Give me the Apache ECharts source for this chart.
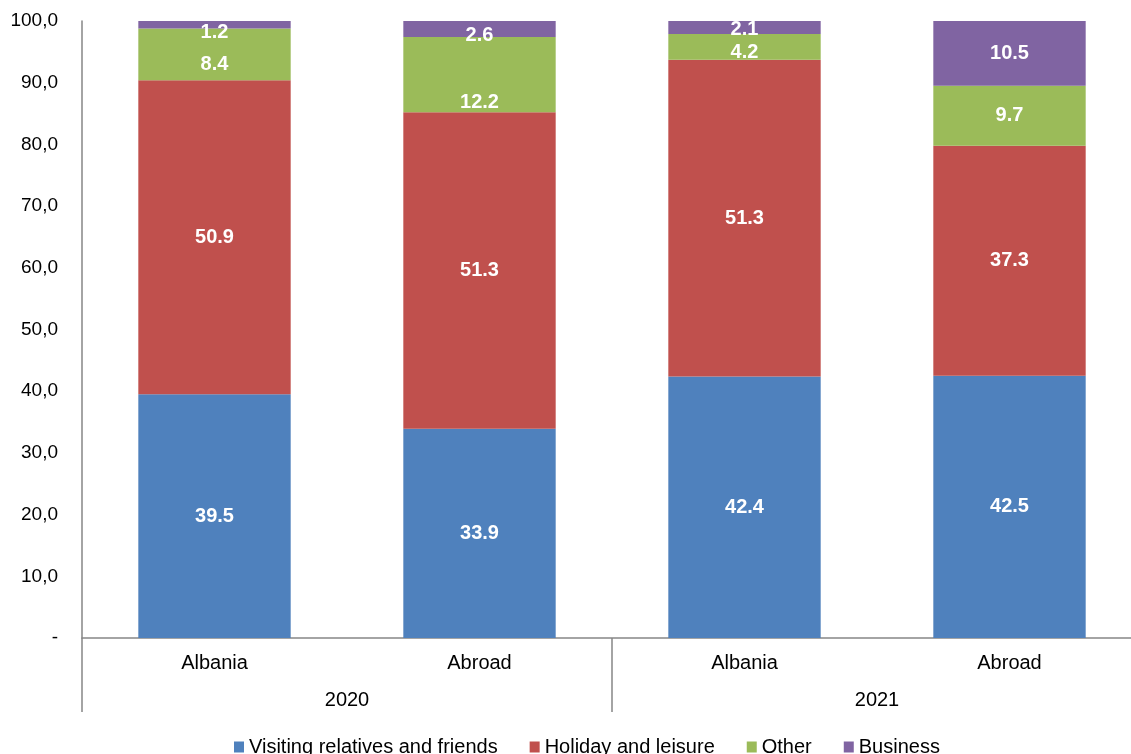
<!DOCTYPE html>
<html><head><meta charset="utf-8">
<script src="https://cdn.jsdelivr.net/npm/echarts@6/dist/echarts.min.js"></script>
<style>html,body{margin:0;padding:0;background:#fff;overflow:hidden;width:1131px;height:754px}#c{width:1142px;height:754px}</style>
</head><body><div id="c"></div>
<script>
var categories = ['Albania', 'Abroad', 'Albania', 'Abroad'];
var years = ['2020', '2021'];
var visiting = [39.5, 33.9, 42.4, 42.5];
var holiday = [50.9, 51.3, 51.3, 37.3];
var other = [8.4, 12.2, 4.2, 9.7];
var business = [1.2, 2.6, 2.1, 10.5];
var seriesNames = ['Visiting relatives and friends', 'Holiday and leisure', 'Other', 'Business'];
var colors = ['#4F81BD', '#C0504D', '#9BBB59', '#8064A2'];

// label vertical nudges (px), styling only, as in the reference
var otherLabelShift = [10, 28, 6, 0];
var businessLabelShift = [8, 6, 2, 0];

var font = '"Liberation Sans", Arial, sans-serif';
var chart = echarts.init(document.getElementById('c'));
function mk(name, data, color, shifts) {
  return {
    name: name, type: 'bar', stack: 'a', barWidth: '57.5%',
    data: data.map(function (v, i) {
      var d = { value: v };
      if (shifts && shifts[i]) d.label = { offset: [0, shifts[i]] };
      return d;
    }),
    itemStyle: { color: color },
    label: { show: true, position: 'inside', color: '#fff', fontWeight: 'bold', fontSize: 20, fontFamily: font,
      formatter: function (p) { return p.value.toFixed(1); } }
  };
}
chart.setOption({
  animation: false,
  color: colors,
  grid: { left: 82, right: 0, top: 21, bottom: 116, containLabel: false },
  legend: {
    top: 732, left: 229, itemWidth: 10, itemHeight: 11, itemGap: 32,
    icon: 'rect', textStyle: { fontSize: 20, fontFamily: font, color: '#000' },
    data: seriesNames
  },
  xAxis: [
    { type: 'category', data: categories, position: 'bottom',
      axisLine: { show: true, lineStyle: { color: '#868686', width: 1.5 } },
      axisTick: { show: false },
      axisLabel: { fontSize: 20, fontFamily: font, color: '#000', margin: 15 } },
    { type: 'category', data: years, position: 'bottom',
      axisLine: { show: false },
      axisTick: { show: true, length: 74, lineStyle: { color: '#868686', width: 1.5 } },
      axisLabel: { fontSize: 20, fontFamily: font, color: '#000', margin: 52 } }
  ],
  yAxis: {
    type: 'value', min: 0, max: 100, interval: 10,
    axisLine: { show: true, lineStyle: { color: '#868686', width: 1.5 } },
    axisTick: { show: false },
    splitLine: { show: false },
    axisLabel: { fontSize: 19, fontFamily: font, color: '#000', margin: 24,
      formatter: function (v) { return v === 0 ? '-' : v.toFixed(1).replace('.', ','); } }
  },
  series: [
    mk(seriesNames[0], visiting, colors[0]),
    mk(seriesNames[1], holiday, colors[1]),
    mk(seriesNames[2], other, colors[2], otherLabelShift),
    mk(seriesNames[3], business, colors[3], businessLabelShift)
  ]
});
</script></body></html>
